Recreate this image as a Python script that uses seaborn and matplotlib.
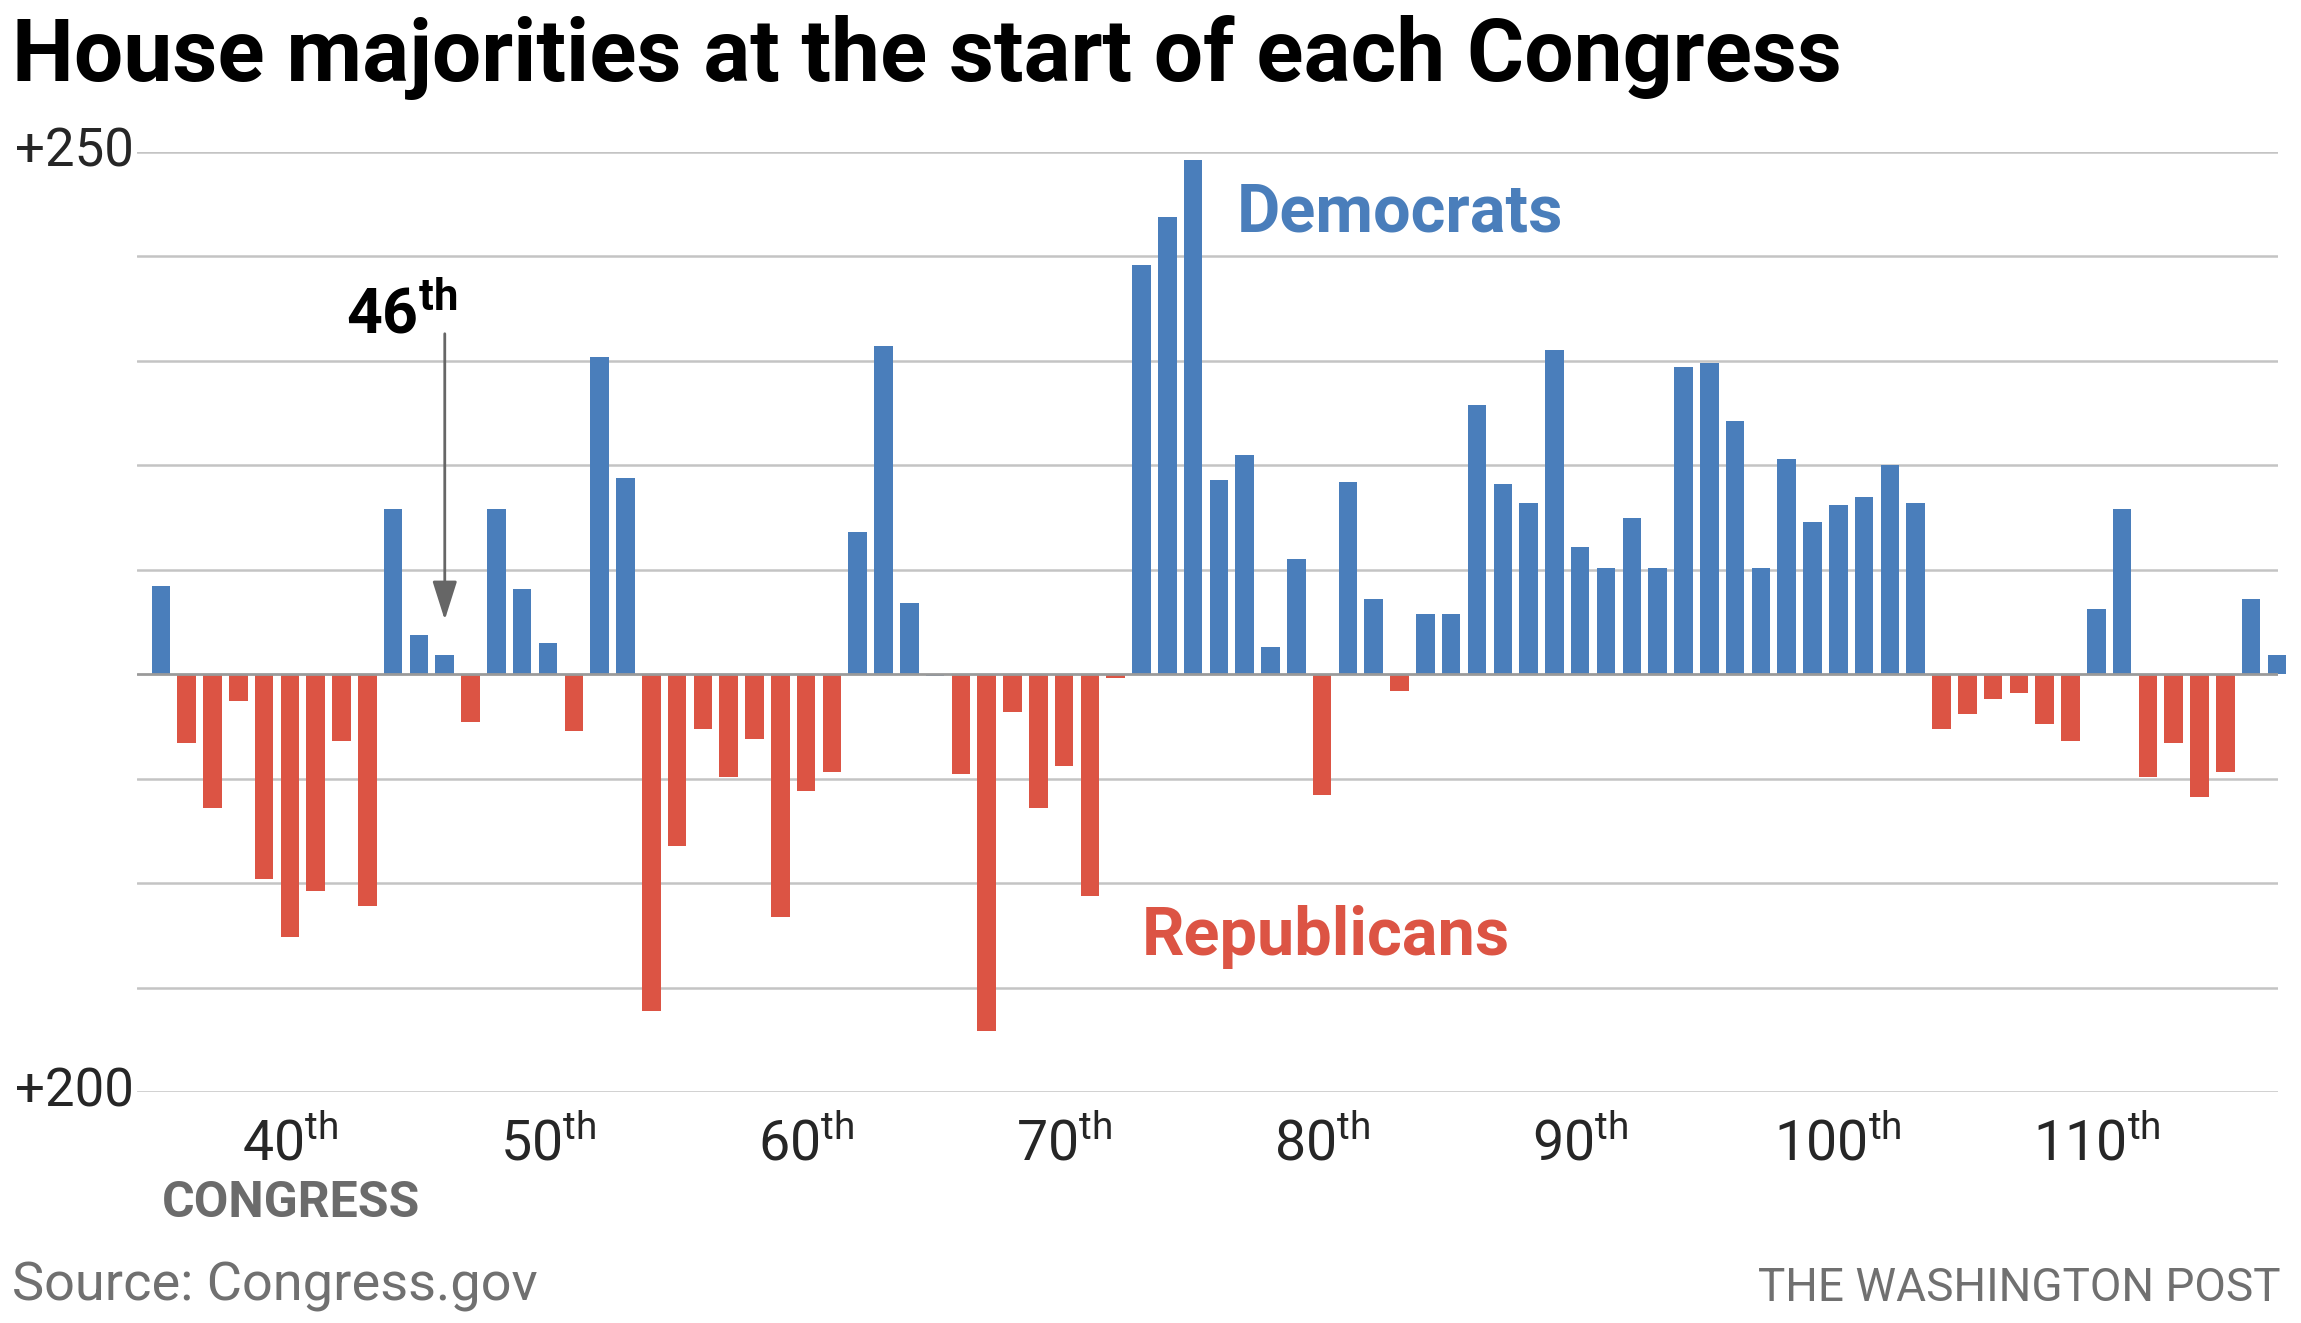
import pandas as pd
import numpy as np
import seaborn as sns
import matplotlib.pyplot as plt

# Congress numbers, majority size (majority minus minority seats), majority party
congress = list(range(35, 118))
margin = [42, -33, -64, -13, -98, -126, -104, -32, -111, 79,
          19, 9, -23, 79, 41, 15, -27, 152, 94, -161,
          -82, -26, -49, -31, -116, -56, -47, 68, 157, 34,
          -1, -48, -171, -18, -64, -44, -106, -2, 196, 219,
          246, 93, 105, 13, 55, -58, 92, 36, -8, 29,
          29, 129, 91, 82, 155, 61, 51, 75, 51, 147,
          149, 121, 51, 103, 73, 81, 85, 100, 82, -26,
          -19, -12, -9, -24, -32, 31, 79, -49, -33, -59,
          -47, 36, 9]
party = ["D", "R", "R", "R", "R", "R", "R", "R", "R", "D",
         "D", "D", "R", "D", "D", "D", "R", "D", "D", "R",
         "R", "R", "R", "R", "R", "R", "R", "D", "D", "D",
         "D", "R", "R", "R", "R", "R", "R", "R", "D", "D",
         "D", "D", "D", "D", "D", "R", "D", "D", "R", "D",
         "D", "D", "D", "D", "D", "D", "D", "D", "D", "D",
         "D", "D", "D", "D", "D", "D", "D", "D", "D", "R",
         "R", "R", "R", "R", "R", "D", "D", "R", "R", "R",
         "R", "D", "D"]

tick_congress = [40, 50, 60, 70, 80, 90, 100, 110]
grid_vals = [-200, -150, -100, -50, 0, 50, 100, 150, 200, 250]

df = pd.DataFrame({"congress": congress, "margin": margin, "party": party})

BLUE = "#4a7ebb"
RED = "#dc5444"
GRAY = "#6b6b6b"

sns.set_theme(style="white")
plt.rcParams["font.family"] = ["Roboto", "DejaVu Sans"]
plt.rcParams["mathtext.fontset"] = "custom"
plt.rcParams["mathtext.rm"] = "Roboto"
plt.rcParams["mathtext.bf"] = "Roboto:bold"

fig = plt.figure(figsize=(23.01, 13.23), dpi=100)
ax = fig.add_axes([0.0595, 0.1746, 0.9305, 0.7105])

# gridlines
for v in grid_vals:
    if v != 0:
        ax.axhline(v, color="#c4c4c4", lw=1.8, zorder=0)

sns.barplot(data=df, x="congress", y="margin", hue="party",
            palette={"D": BLUE, "R": RED}, dodge=False, width=0.72,
            saturation=1, linewidth=0, legend=False, ax=ax, zorder=2)
for p in ax.patches:
    p.set_clip_on(False)

ax.axhline(0, color="#9a9a9a", lw=2.0, zorder=3)

ax.set_xlim(-0.93, len(congress) - 1 + 0.04)
ax.set_ylim(-200, 250)
sns.despine(ax=ax, left=True, bottom=True)
ax.set_xlabel("")
ax.set_ylabel("")

# y tick labels only at the ends
ax.set_yticks([-200, 250])
ax.set_yticklabels(["+200", "+250"])
ax.tick_params(axis="y", length=0, pad=2, labelsize=38)
for t in ax.get_yticklabels():
    t.set_verticalalignment("center")

# x ticks
ax.set_xticks([congress.index(c) for c in tick_congress])
ax.set_xticklabels([f"{c}$^{{\\mathrm{{th}}}}$" for c in tick_congress])
ax.tick_params(axis="x", length=0, pad=18, labelsize=40)

# series labels
ax.text(41.7, 212, "Democrats", color=BLUE, fontsize=48, fontweight="bold",
        ha="left", va="baseline")
ax.text(38.0, -134.5, "Republicans", color=RED, fontsize=48, fontweight="bold",
        ha="left", va="baseline")

# 46th annotation
i46 = congress.index(46)
ax.annotate("", xy=(i46, 26), xytext=(i46, 163),
            arrowprops=dict(arrowstyle="-|>,head_length=1.2,head_width=0.38",
                            color="#666666", lw=2, mutation_scale=20,
                            shrinkA=0, shrinkB=0))
ax.text(i46 + 0.5, 163, "46$^{\\mathbf{th}}$", fontsize=45, fontweight="bold",
        color="black", ha="right", va="baseline")

# title and footer texts
fig.text(0.005, 0.939, "House majorities at the start of each Congress",
         fontsize=63, fontweight="bold", color="black", ha="left", va="baseline")
fig.text(162 / 2301, 1 - 1217 / 1323, "CONGRESS", fontsize=36, fontweight="bold",
         color=GRAY, ha="left", va="baseline")
fig.text(0.005, 1 - 1300 / 1323, "Source: Congress.gov", fontsize=39,
         color="#707070", ha="left", va="baseline")
fig.text(0.991, 1 - 1301 / 1323, "THE WASHINGTON POST", fontsize=33,
         color="#707070", ha="right", va="baseline")

fig.savefig("out.png", dpi=100)
